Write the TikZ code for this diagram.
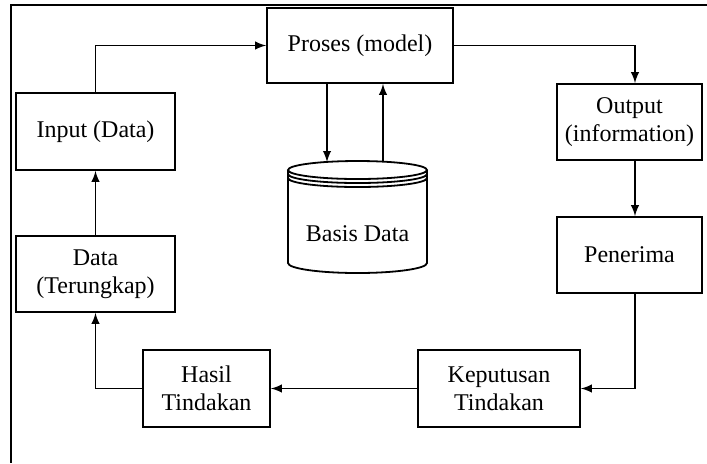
\documentclass[tikz,border=0pt]{standalone}
\usepackage{fontspec}
\setmainfont{Liberation Serif}
\usepackage{tikz}
\usetikzlibrary{arrows}

\begin{document}
\begin{tikzpicture}
			[x=0.5pt,y=-0.5pt,
			 box/.style= {font=\fontsize{12}{14}\selectfont,draw=black,line width=0.9pt,align=center,inner sep=1pt},
			 link/.style= {-latex,line width=0.9pt}]

			\useasboundingbox (0,0) rectangle (707,463);

			% frame
			\draw[line width=1.3pt] (707,5) -- (11,5) -- (11,463);

			\node[box,minimum width=93pt,minimum height=37.5pt] (pro) at (360,45.5) {Proses (model)};

			\node[box,minimum width=79.5pt,minimum height=38.5pt] (inp) at (95.5,131.5) {Input (Data)};

			\node[box,minimum width=79.5pt,minimum height=38pt] (dat) at (95.5,274) {Data\\(Terungkap)};

			\node[box,minimum width=63.5pt,minimum height=38.5pt] (has) at (206.5,388.5) {Hasil\\Tindakan};

			\node[box,minimum width=81pt,minimum height=38.5pt] (kep) at (499,388.5) {Keputusan\\Tindakan};

			\node[box,minimum width=72.5pt,minimum height=38pt] (out) at (629.5,122) {Output\\(information)};

			\node[box,minimum width=72.5pt,minimum height=38pt] (pen) at (629.5,255) {Penerima};

			% basis data
			\draw[line width=0.9pt] (288,170) -- (288,263)
				arc[start angle=180,end angle=360,x radius=34.75pt,y radius=5pt]
				-- (427,170);
			\draw[line width=0.9pt] (357.5,170) ellipse [x radius=34.75pt,y radius=4.5pt];
			\draw[line width=0.9pt] (288,174) arc[start angle=180,end angle=360,x radius=34.75pt,y radius=4.5pt];
			\draw[line width=0.9pt] (288,178) arc[start angle=180,end angle=360,x radius=34.75pt,y radius=4.5pt];
			\node[font=\fontsize{12}{14}\selectfont] (db) at (357.5,234) {Basis Data};
			\coordinate (dbin) at (327,162);
			\coordinate (dbout) at (383,162);

			\draw[link] (inp.north) |- (pro.west);
			\draw[link] (pro.east) -| ([xshift=2.75pt]out.north);
			\draw[link] ([xshift=-16.5pt]pro.south) -- (dbin);
			\draw[link] (dbout) -- ([xshift=11.5pt]pro.south);
			\draw[link] ([xshift=2.75pt]out.south) -- ([xshift=2.75pt]pen.north);
			\draw[link] ([xshift=2.75pt]pen.south) |- (kep.east);
			\draw[link] (kep) -- (has);
			\draw[link] (has.west) -| (dat.south);
			\draw[link] (dat) -- (inp);

		\end{tikzpicture}
\end{document}
